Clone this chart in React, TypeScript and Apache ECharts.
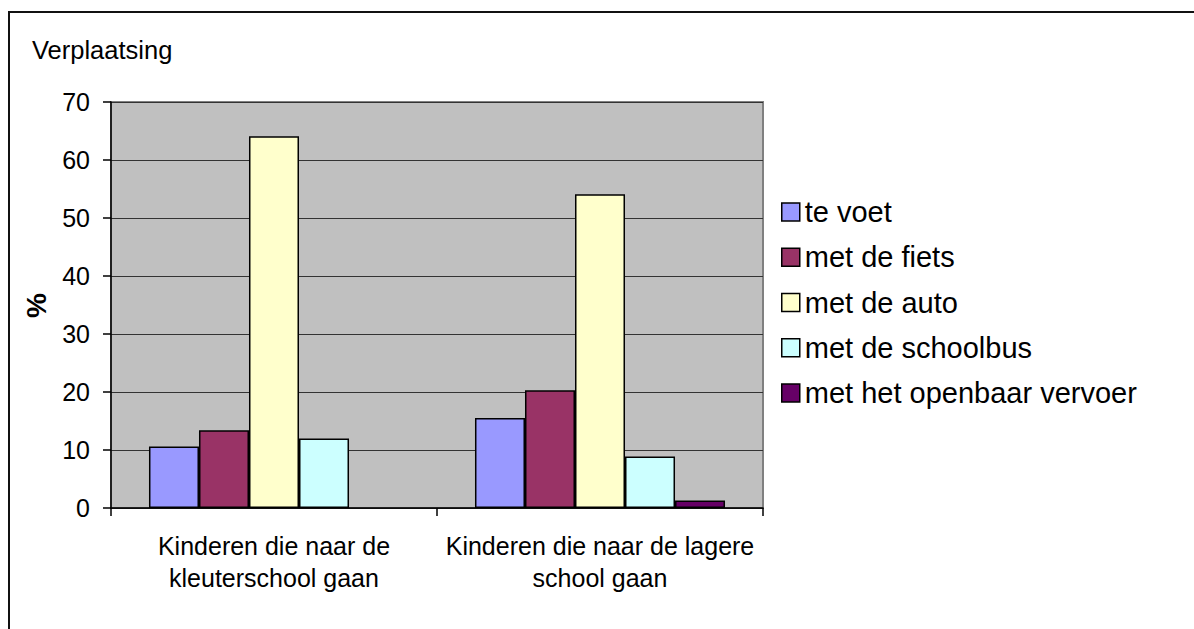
import React, { useEffect, useRef } from "react";
import * as echarts from "echarts";

const categories = [
  "Kinderen die naar de\nkleuterschool gaan",
  "Kinderen die naar de lagere\nschool gaan",
];
const seriesNames = [
  "te voet",
  "met de fiets",
  "met de auto",
  "met de schoolbus",
  "met het openbaar vervoer",
];
const teVoet = [10.6, 15.5];
const metDeFiets = [13.4, 20.3];
const metDeAuto = [64.1, 54.1];
const metDeSchoolbus = [12.0, 8.9];
const metHetOpenbaarVervoer = [null, 1.3];
const seriesColors = ["#9999FF", "#993366", "#FFFFCC", "#CCFFFF", "#660066"];
const yTicks = [0, 10, 20, 30, 40, 50, 60, 70];

const FONT = "'Liberation Sans', Arial, sans-serif";

export default function App() {
  const ref = useRef<HTMLDivElement>(null);
  useEffect(() => {
    if (!ref.current) return;
    const chart = echarts.init(ref.current, null, { renderer: "svg" });
    const values = [teVoet, metDeFiets, metDeAuto, metDeSchoolbus, metHetOpenbaarVervoer];
    chart.setOption({
      animation: false,
      backgroundColor: "#FFFFFF",
      title: {
        text: "Verplaatsing",
        left: 32,
        top: 37,
        padding: 0,
        textStyle: { fontFamily: FONT, fontSize: 25.5, fontWeight: "normal", color: "#000", lineHeight: 25 },
      },
      graphic: [
        {
          type: "rect",
          shape: { x: 9, y: 12, width: 1300, height: 800 },
          style: { fill: "none", stroke: "#111", lineWidth: 2 },
          silent: true,
          z: 0,
        },
        {
          type: "text",
          x: 36,
          y: 305.5,
          rotation: Math.PI / 2,
          style: {
            text: "%",
            fontFamily: FONT,
            fontSize: 28,
            fontWeight: "bold",
            fill: "#000",
            align: "center",
            verticalAlign: "middle",
          },
        },
      ],
      legend: {
        orient: "vertical",
        left: 781,
        top: 197.5,
        padding: 0,
        itemWidth: 18,
        itemHeight: 18,
        itemGap: 16.25,
        icon: "rect",
        data: seriesNames,
        itemStyle: { borderColor: "#000", borderWidth: 1.5 },
        textStyle: { fontFamily: FONT, fontSize: 29, color: "#000", lineHeight: 29 },
      },
      grid: {
        left: 111,
        right: 431,
        top: 102,
        bottom: 121,
        show: true,
        backgroundColor: "#C0C0C0",
        borderColor: "#808080",
        borderWidth: 2,
      },
      xAxis: {
        type: "category",
        data: categories,
        axisLine: { show: true, lineStyle: { color: "#000", width: 1.5 } },
        axisTick: { show: true, length: 8, lineStyle: { color: "#000", width: 1.5 } },
        axisLabel: {
          interval: 0,
          margin: 22,
          fontFamily: FONT,
          fontSize: 25,
          lineHeight: 32,
          color: "#000",
        },
      },
      yAxis: {
        type: "value",
        min: yTicks[0],
        max: yTicks[yTicks.length - 1],
        interval: 10,
        axisLine: { show: true, lineStyle: { color: "#000", width: 1.5 } },
        axisTick: { show: true, length: 8, lineStyle: { color: "#000", width: 1.5 } },
        axisLabel: { margin: 21, fontFamily: FONT, fontSize: 25, color: "#000" },
        splitLine: { show: true, lineStyle: { color: "#333", width: 1.2 } },
      },
      series: seriesNames.map((name, i) => ({
        name,
        type: "bar",
        data: values[i],
        barGap: "0%",
        barCategoryGap: "23.3%",
        itemStyle: { color: seriesColors[i], borderColor: "#000", borderWidth: 1.5 },
      })),
    });
    return () => chart.dispose();
  }, []);
  return (
    <div
      ref={ref}
      style={{ position: "absolute", left: 0, top: 0, width: 1194, height: 629, background: "#fff" }}
    />
  );
}
